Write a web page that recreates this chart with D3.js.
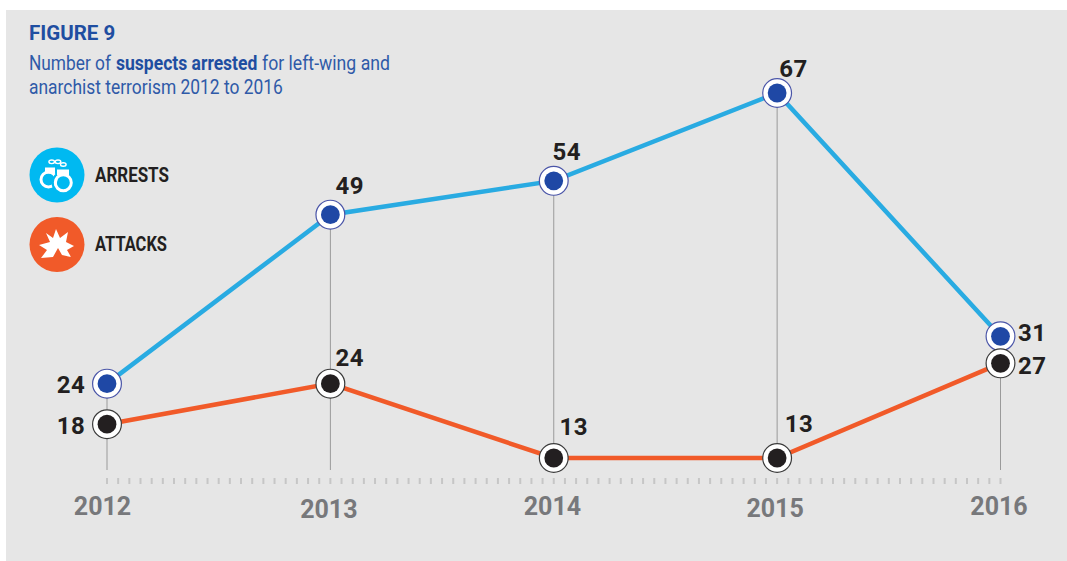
<!DOCTYPE html>
<html><head><meta charset="utf-8">
<script src="https://cdn.jsdelivr.net/npm/d3@7"></script>
<style>html,body{margin:0;padding:0;background:#fff}svg{display:block}text{font-family:Roboto,sans-serif}</style>
</head><body><svg id="c" width="1067" height="561"></svg>
<script>
const years = [2012, 2013, 2014, 2015, 2016];
const arrests = [24, 49, 54, 67, 31];
const attacks = [18, 24, 13, 13, 27];
const tickLabels = ["2012", "2013", "2014", "2015", "2016"];
const title = "FIGURE 9";
const subtitleParts = ["Number of", "suspects arrested", "for left-wing and"];
const subtitleLine2 = "anarchist terrorism 2012 to 2016";
const legendLabels = ["ARRESTS", "ATTACKS"];

const svg = d3.select("#c");
svg.append("rect").attr("x", 6).attr("y", 10).attr("width", 1061).attr("height", 551).attr("fill", "#e6e6e6");

const x = d3.scaleLinear().domain([2012, 2016]).range([107, 1000.5]);
const y = d3.scaleLinear().domain([13, 67]).range([458, 93]);

// small ruler ticks
const rulerTicks = d3.range(0, 81).map(i => 2012 + i / 20);
svg.append("g").selectAll("line").data(rulerTicks).join("line")
  .attr("x1", d => x(d)).attr("x2", d => x(d)).attr("y1", 478).attr("y2", 484)
  .attr("stroke", "#c6c6c6").attr("stroke-width", 2);

// droplines
svg.append("g").selectAll("line").data(years).join("line")
  .attr("x1", d => x(d)).attr("x2", d => x(d))
  .attr("y1", (d, i) => y(arrests[i])).attr("y2", 470)
  .attr("stroke", "#9a9a9a").attr("stroke-width", 1);

const line = d3.line().x((d, i) => x(years[i])).y(d => y(d));
svg.append("path").attr("d", line(arrests)).attr("fill", "none").attr("stroke", "#29abe2").attr("stroke-width", 4.5);
svg.append("path").attr("d", line(attacks)).attr("fill", "none").attr("stroke", "#f15a29").attr("stroke-width", 4.5);

function dots(vals, ring, core) {
  const g = svg.append("g").selectAll("g").data(vals).join("g")
    .attr("transform", (d, i) => `translate(${x(years[i])},${y(d)})`);
  g.append("circle").attr("r", 14.4).attr("fill", "#fff").attr("stroke", ring).attr("stroke-width", 1.2);
  g.append("circle").attr("r", 9.4).attr("fill", core);
}
dots(arrests, "#4a55a8", "#1f48a5");
dots(attacks, "#3a3a3a", "#231f20");

// value labels: dx, dy, anchor
const arrestOff = [[-21.5, 9.4, "end"], [19.5, -20.7, "middle"], [13, -21, "middle"], [16.5, -16.3, "middle"], [17.5, 4.7, "start"]];
const attackOff = [[-21.5, 9.8, "end"], [19.5, -17.6, "middle"], [20, -23, "middle"], [22, -26, "middle"], [17.5, 10.6, "start"]];
function labels(vals, off) {
  svg.append("g").selectAll("text").data(vals).join("text")
    .attr("x", (d, i) => x(years[i]) + off[i][0])
    .attr("y", (d, i) => y(d) + off[i][1])
    .attr("text-anchor", (d, i) => off[i][2])
    .attr("font-size", 24).attr("font-weight", 700).attr("letter-spacing", 0.6)
    .attr("fill", "#231f20").text(d => d);
}
labels(arrests, arrestOff);
labels(attacks, attackOff);

// year labels
const yearBase = [515, 517.7, 515, 517.3, 515];
const yearDx = [-4.5, -1.5, -1.3, -2, -1.5];
svg.append("g").selectAll("text").data(tickLabels).join("text")
  .attr("x", (d, i) => x(years[i]) + yearDx[i]).attr("y", (d, i) => yearBase[i])
  .attr("text-anchor", "middle").attr("font-size", 25).attr("font-weight", 700)
  .attr("fill", "#77787b").text(d => d);

// horizontally condensed text, fitted to a target width
function fitted(str, px, py, w, size, weight, fill) {
  const t = svg.append("text").attr("font-size", size).attr("font-weight", weight).attr("fill", fill).text(str);
  const sx = w / t.node().getComputedTextLength();
  t.attr("transform", `translate(${px},${py}) scale(${sx},1)`);
  return t;
}

// title
svg.append("text").attr("x", 29).attr("y", 40).attr("font-size", 20.5).attr("font-weight", 700).attr("fill", "#1f4ea1").text(title);
fitted(subtitleParts[0], 29, 69.5, 82, 20, 400, "#2f5aa8");
fitted(subtitleParts[1], 116, 69.5, 141.5, 20, 700, "#1f4ea1");
fitted(subtitleParts[2], 262, 69.5, 128, 20, 400, "#2f5aa8");
fitted(subtitleLine2, 29, 93.5, 254, 20, 400, "#2f5aa8");

// legend
svg.append("circle").attr("cx", 57).attr("cy", 175).attr("r", 27.5).attr("fill", "#00b9f1");
svg.append("circle").attr("cx", 57).attr("cy", 244.5).attr("r", 27.5).attr("fill", "#f15a29");
fitted(legendLabels[0], 95, 182, 74, 19.5, 700, "#231f20");
fitted(legendLabels[1], 95, 250.5, 72, 19.5, 700, "#231f20");

// handcuffs icon
const cuffs = svg.append("g").attr("fill", "none").attr("stroke", "#fff");
cuffs.append("circle").attr("cx", 48.5).attr("cy", 179.5).attr("r", 7.5).attr("stroke-width", 3);
cuffs.append("rect").attr("x", 45).attr("y", 167.5).attr("width", 10).attr("height", 6).attr("fill", "#fff").attr("stroke", "none");
cuffs.append("circle").attr("cx", 63.3).attr("cy", 182.7).attr("r", 10.5).attr("stroke", "#00b9f1").attr("stroke-width", 2.5);
cuffs.append("circle").attr("cx", 63.3).attr("cy", 182.7).attr("r", 8).attr("stroke-width", 3);
cuffs.append("rect").attr("x", 57).attr("y", 169.5).attr("width", 12).attr("height", 6).attr("fill", "#fff").attr("stroke", "none");
[[51.7, 161.8], [58, 161.8], [63.3, 164.5]].forEach(p => {
  cuffs.append("ellipse").attr("cx", p[0]).attr("cy", p[1]).attr("rx", 2.8).attr("ry", 1.8).attr("stroke-width", 1.4);
});

// explosion icon
const blast = [[41, 258], [47, 250], [39, 245], [50, 242], [46, 233], [53, 238], [56, 229], [60, 238], [68, 232], [66, 242], [74, 246], [67, 250], [71, 257], [62, 255], [58, 248], [53, 257]];
svg.append("path").attr("d", d3.line()(blast) + "Z").attr("fill", "#fff");
</script></body></html>
